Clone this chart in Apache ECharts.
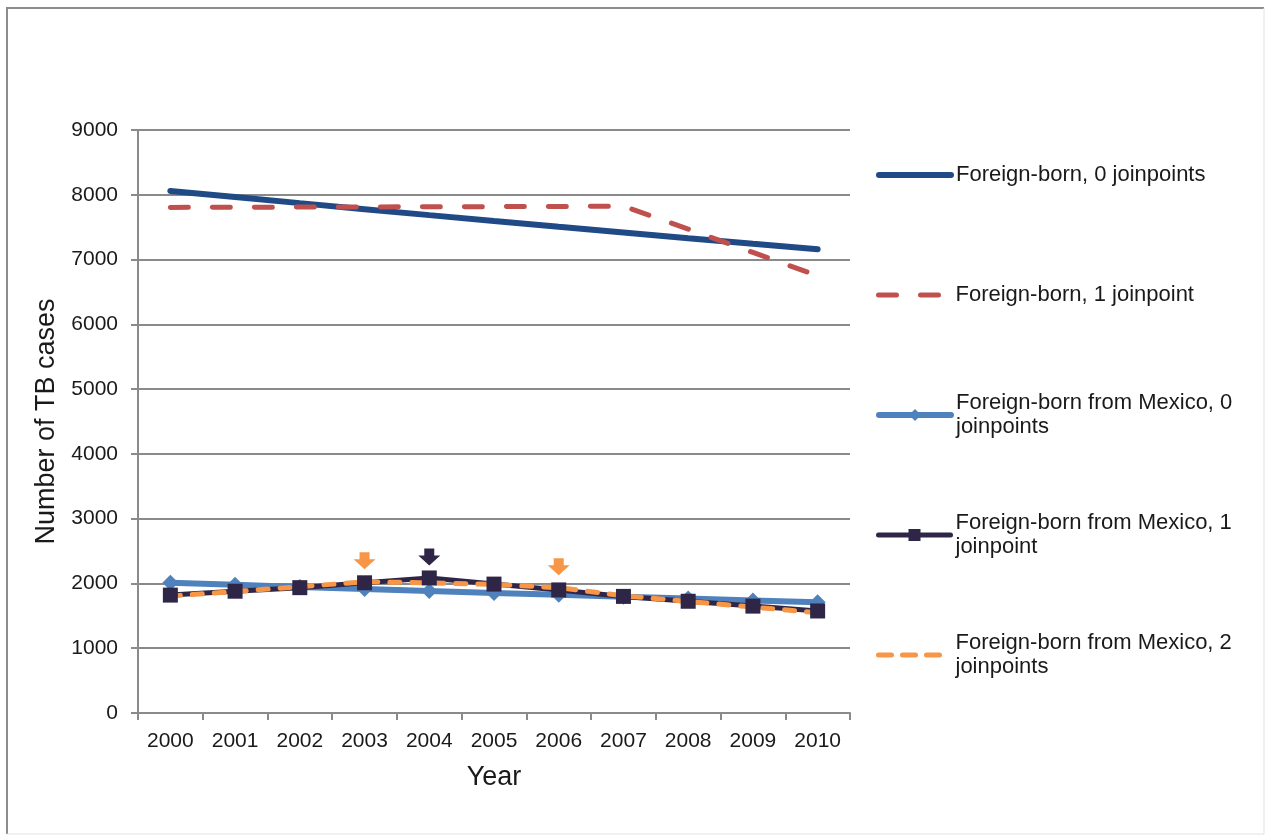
<!DOCTYPE html>
<html>
<head>
<meta charset="utf-8">
<title>TB cases, foreign-born</title>
<script src="https://cdn.jsdelivr.net/npm/echarts@6/dist/echarts.min.js"></script>
<style>
  html, body { margin: 0; padding: 0; background: #fff; }
  #chart { width: 1265px; height: 835px; }
</style>
</head>
<body>
<div id="chart"></div>
<script>
// data
const years = ['2000', '2001', '2002', '2003', '2004', '2005', '2006', '2007', '2008', '2009', '2010']
const yTicks = { min: 0, max: 9000, step: 1000 }

const foreignBorn0 = [8060, 7965, 7871, 7778, 7686, 7595, 7505, 7417, 7329, 7243, 7160]
const foreignBorn1 = [7805, 7808, 7810, 7812, 7815, 7817, 7820, 7825, 7470, 7110, 6750]
const mexico0 = [2010, 1978, 1946, 1915, 1884, 1854, 1824, 1795, 1766, 1738, 1710]
const mexico1 = [1820, 1880, 1935, 2010, 2085, 1990, 1900, 1800, 1725, 1650, 1575]
const mexico2 = [1805, 1875, 1950, 2025, 2010, 1985, 1935, 1810, 1722, 1636, 1548]

// joinpoint arrows
const mexico1Joinpoints = ['2004']
const mexico2Joinpoints = ['2003', '2006']

const names = [
  'Foreign-born, 0 joinpoints',
  'Foreign-born, 1 joinpoint',
  'Foreign-born from Mexico, 0 joinpoints',
  'Foreign-born from Mexico, 1 joinpoint',
  'Foreign-born from Mexico, 2 joinpoints'
]
const legendLabels = {
  'Foreign-born from Mexico, 0 joinpoints': 'Foreign-born from Mexico, 0\njoinpoints',
  'Foreign-born from Mexico, 1 joinpoint': 'Foreign-born from Mexico, 1\njoinpoint',
  'Foreign-born from Mexico, 2 joinpoints': 'Foreign-born from Mexico, 2\njoinpoints'
}

const FONT = 'Liberation Sans, Arial, sans-serif'
const arrowPath = 'path://M6,0 L16,0 L16,7 L22,7 L11,17 L0,7 L6,7 Z'

function arrows (list, values, color) {
  return {
    symbol: arrowPath,
    symbolSize: [22, 17],
    symbolOffset: [0, -21],
    silent: true,
    label: { show: false },
    itemStyle: { color: color },
    data: list.map(y => ({ coord: [y, values[years.indexOf(y)]] }))
  }
}

// one legend per entry so each can sit at its own height
function legendFor (name, top, line, hasSymbol) {
  const multi = !!legendLabels[name]
  return {
    left: 876,
    top: top,
    padding: 0,
    orient: 'vertical',
    itemWidth: 72,
    itemHeight: 15,
    data: [name],
    selectedMode: false,
    formatter: n => legendLabels[n] || n,
    lineStyle: Object.assign({ cap: 'round' }, line),
    itemStyle: hasSymbol ? {} : { opacity: 0 },
    textStyle: {
      fontFamily: FONT,
      fontSize: 22,
      color: '#1a1a1a',
      lineHeight: 24,
      padding: multi ? [24, 0, 0, 0] : 0
    }
  }
}

const chart = echarts.init(document.getElementById('chart'))
chart.setOption({
  backgroundColor: '#fff',
  animation: false,
  grid: { left: 138, right: 415, top: 130, bottom: 122 },
  legend: [
    legendFor(names[0], 175 - 12, { width: 6 }, false),
    legendFor(names[1], 295 - 12, { width: 5, type: [18, 24] }, false),
    legendFor(names[2], 415 - 36, { width: 6 }, true),
    legendFor(names[3], 535 - 36, { width: 5 }, true),
    legendFor(names[4], 655 - 36, { width: 5, type: [13, 11] }, false)
  ],
  xAxis: {
    type: 'category',
    data: years,
    boundaryGap: true,
    name: 'Year',
    nameLocation: 'middle',
    nameGap: 51,
    nameTextStyle: { fontFamily: FONT, fontSize: 27, color: '#1a1a1a' },
    axisLine: { lineStyle: { color: '#8a8a8a', width: 2 } },
    axisTick: { show: true, length: 7, alignWithLabel: false, lineStyle: { color: '#8a8a8a', width: 2 } },
    axisLabel: { fontFamily: FONT, fontSize: 21, color: '#1a1a1a', margin: 18, interval: 0 },
    splitLine: { show: false }
  },
  yAxis: {
    type: 'value',
    min: yTicks.min,
    max: yTicks.max,
    interval: yTicks.step,
    name: 'Number of TB cases',
    nameLocation: 'middle',
    nameGap: 73,
    nameTextStyle: { fontFamily: FONT, fontSize: 27, color: '#1a1a1a' },
    axisLine: { show: true, lineStyle: { color: '#8a8a8a', width: 2 } },
    axisTick: { show: true, length: 7, lineStyle: { color: '#8a8a8a', width: 2 } },
    axisLabel: { fontFamily: FONT, fontSize: 21, color: '#1a1a1a', margin: 20, formatter: v => String(v) },
    splitLine: { show: true, lineStyle: { color: '#8a8a8a', width: 2 } }
  },
  graphic: [
    { type: 'polyline', silent: true, shape: { points: [[7, 834], [7, 8], [1264, 8]] }, style: { stroke: '#8c8c8c', lineWidth: 2, fill: null } },
    { type: 'polyline', silent: true, shape: { points: [[1264, 8], [1264, 834], [7, 834]] }, style: { stroke: '#e2e2e2', lineWidth: 1, fill: null } }
  ],
  series: [
    {
      name: names[0],
      type: 'line',
      data: foreignBorn0,
      symbol: 'none',
      color: '#1f4a86',
      lineStyle: { color: '#1f4a86', width: 6, cap: 'round' }
    },
    {
      name: names[1],
      type: 'line',
      data: foreignBorn1,
      symbol: 'none',
      color: '#c0504d',
      lineStyle: { color: '#c0504d', width: 5, type: [18, 24], cap: 'round' }
    },
    {
      name: names[2],
      type: 'line',
      data: mexico0,
      symbol: 'diamond',
      symbolSize: 16,
      color: '#4f81bd',
      itemStyle: { color: '#4f81bd' },
      lineStyle: { color: '#4f81bd', width: 6, cap: 'round' }
    },
    {
      name: names[3],
      type: 'line',
      data: mexico1,
      symbol: 'rect',
      symbolSize: 15,
      color: '#2f2647',
      itemStyle: { color: '#2f2647' },
      lineStyle: { color: '#2f2647', width: 5, cap: 'round' },
      markPoint: arrows(mexico1Joinpoints, mexico1, '#2f2647')
    },
    {
      name: names[4],
      type: 'line',
      data: mexico2,
      symbol: 'none',
      color: '#f79646',
      lineStyle: { color: '#f79646', width: 5, type: [10, 12], cap: 'round' },
      markPoint: arrows(mexico2Joinpoints, mexico2, '#f79646')
    }
  ]
})
</script>
</body>
</html>
